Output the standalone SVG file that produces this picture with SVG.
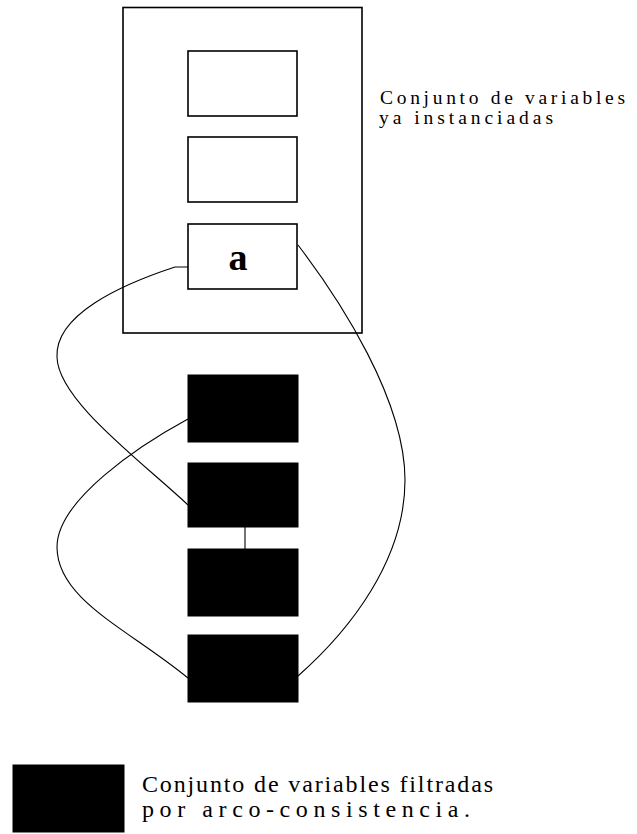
<svg xmlns="http://www.w3.org/2000/svg" width="637" height="834" viewBox="0 0 637 834">
<style>
.frame{fill:none;stroke:#000;stroke-width:1.6}
.var{fill:#fff;stroke:#000;stroke-width:1.6}
.filt{fill:#000;stroke:#000;stroke-width:1}
.conn{fill:none;stroke:#000;stroke-width:1.1}
.lbl{font-family:"Liberation Serif","Times New Roman",serif;font-size:19.5px;fill:#000}
.leg{font-family:"Liberation Serif","Times New Roman",serif;font-size:24px;fill:#000}
.big{font-family:"Liberation Serif","Times New Roman",serif;font-size:38px;font-weight:bold;fill:#000}
</style>
<rect width="637" height="834" fill="#fff"/>
<g id="instanciadas">
<rect class="frame" x="123" y="7.5" width="239" height="325.5"/>
</g>
<g id="v1"><rect class="var" x="188" y="51" width="109" height="65"/></g>
<g id="v2"><rect class="var" x="188" y="137" width="109" height="65"/></g>
<g id="va"><rect class="var" x="188" y="224" width="109" height="65"/><text class="big" x="238" y="270" text-anchor="middle">a</text></g>
<g id="f1"><rect class="filt" x="188" y="375" width="110" height="67"/></g>
<g id="f2"><rect class="filt" x="188" y="463" width="110" height="64"/></g>
<g id="f3"><rect class="filt" x="188" y="549" width="110" height="67"/></g>
<g id="f4"><rect class="filt" x="188" y="635" width="110" height="67"/></g>
<g id="connectors">
<path class="conn" d="M188,267 H175 C120,285 55,315 57,357 C58,400 140,460 188,505"/>
<path class="conn" d="M188,419 C140,445 57,500 57,547 C57,600 130,630 188,678"/>
<path class="conn" d="M298,245 C340,300 405,400 405,480 C405,560 350,630 298,676"/>
<path class="conn" d="M245,527 V549"/>
</g>
<g id="label-top">
<text class="lbl" x="380" y="103.5" textLength="245" lengthAdjust="spacing">Conjunto de variables</text>
<text class="lbl" x="379" y="124" textLength="174" lengthAdjust="spacing">ya instanciadas</text>
</g>
<g id="legend">
<rect class="filt" x="13" y="765" width="111" height="67"/>
<text class="leg" x="142" y="792" textLength="351" lengthAdjust="spacing">Conjunto de variables filtradas</text>
<text class="leg" x="142" y="817" textLength="328" lengthAdjust="spacing">por arco-consistencia.</text>
</g>
</svg>
